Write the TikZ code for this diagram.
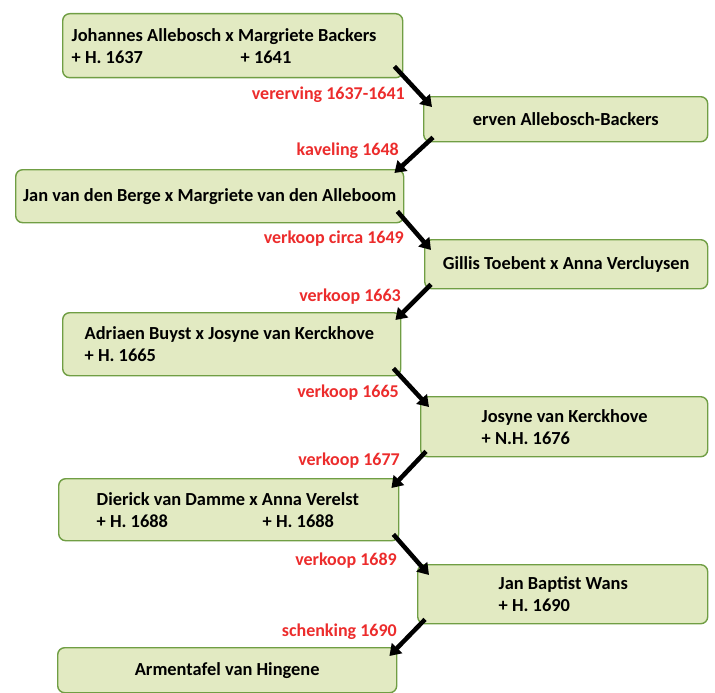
\documentclass[tikz,border=0pt]{standalone}
\usepackage{fontspec}
\setmainfont{Carlito}
\usepackage{xcolor}
\usepackage{tikz}
\usetikzlibrary{arrows.meta}
\definecolor{boxfill}{RGB}{226,234,194}
\definecolor{boxline}{RGB}{112,158,68}
\definecolor{deedred}{RGB}{236,44,44}

\begin{document}
\frenchspacing
\begin{tikzpicture}[x=1pt, y=-1pt,
    owner/.style={draw=boxline, fill=boxfill, line width=1.4pt, rectangle, rounded corners=7pt, anchor=north west, inner ysep=0pt, font=\bfseries\fontsize{18.4}{22}\selectfont},
    indent/.style={text width=#1, align=flush left, inner xsep=0pt},
    transfer/.style={-{Triangle[length=11pt,width=14pt]}, line width=4.5pt, black},
    deed/.style={text=deedred, anchor=east, inner sep=0pt, font=\bfseries\fontsize{18}{22}\selectfont}]
    \useasboundingbox (0,0) rectangle (715,693);

    \node [owner, indent=340pt, minimum height=64pt, execute at begin node={\leftskip=9pt}] (johannes) at (62,13) {Johannes Allebosch x Margriete Backers\\\makebox[169pt][l]{+ H. 1637}+ 1641};
    \node [owner, minimum width=284pt, minimum height=45pt] (erven) at (423,96) {erven Allebosch-Backers};
    \node [owner, minimum width=388pt, minimum height=53pt] (berge) at (15,169) {Jan van den Berge x Margriete van den Alleboom};
    \node [owner, minimum width=283pt, minimum height=49pt] (gillis) at (424,239) {Gillis Toebent x Anna Vercluysen};
    \node [owner, indent=338pt, minimum height=63pt, execute at begin node={\leftskip=22pt}] (adriaen) at (62,312) {Adriaen Buyst x Josyne van Kerckhove\\+ H. 1665};
    \node [owner, indent=287pt, minimum height=60pt, execute at begin node={\leftskip=61pt}] (josyne) at (420,396) {Josyne van Kerckhove\\+ N.H. 1676};
    \node [owner, indent=340pt, minimum height=62pt, execute at begin node={\leftskip=38pt}] (dierick) at (58,478) {Dierick van Damme x Anna Verelst\\\makebox[166pt][l]{+ H. 1688}+ H. 1688};
    \node [owner, indent=290pt, minimum height=59pt, execute at begin node={\leftskip=81pt}] (wans) at (417,564) {Jan Baptist Wans\\+ H. 1690};
    \node [owner, minimum width=339pt, minimum height=45pt] (armentafel) at (57,647) {Armentafel van Hingene};

    % overdrachten
    \draw [transfer] ([shift={(-9,-12)}]johannes.south east) -- ([shift={(9,11)}]erven.north west);
    \draw [transfer] ([shift={(10,-5)}]erven.south west) -- ([shift={(-10,4)}]berge.north east);
    \draw [transfer] ([shift={(-7,-12)}]berge.south east) -- ([shift={(7,11)}]gillis.north west);
    \draw [transfer] ([shift={(7,-5)}]gillis.south west) -- ([shift={(-6,8)}]adriaen.north east);
    \draw [transfer] ([shift={(-8,-8)}]adriaen.south east) -- ([shift={(9,11)}]josyne.north west);
    \draw [transfer] ([shift={(6,-6)}]josyne.south west) -- ([shift={(-8,10)}]dierick.north east);
    \draw [transfer] ([shift={(-6,-7)}]dierick.south east) -- ([shift={(12,11)}]wans.north west);
    \draw [transfer] ([shift={(8,-5)}]wans.south west) -- ([shift={(-8,9)}]armentafel.north east);

    \node [deed] (d1) at (405,95) {vererving 1637-1641};
    \node [deed] (d2) at (399,151) {kaveling 1648};
    \node [deed] (d3) at (404,239) {verkoop circa 1649};
    \node [deed] (d4) at (401,297) {verkoop 1663};
    \node [deed] (d5) at (399,393) {verkoop 1665};
    \node [deed] (d6) at (400,461) {verkoop 1677};
    \node [deed] (d7) at (397,561) {verkoop 1689};
    \node [deed] (d8) at (397,632) {schenking 1690};
\end{tikzpicture}
\end{document}
